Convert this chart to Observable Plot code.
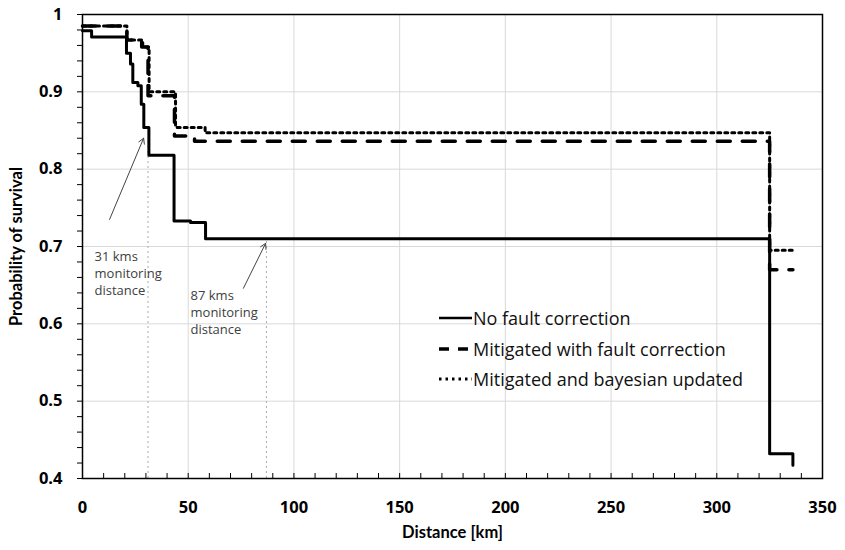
<!DOCTYPE html>
<html><head><meta charset="utf-8">
<script src="https://cdn.jsdelivr.net/npm/d3@7"></script>
<script src="https://cdn.jsdelivr.net/npm/@observablehq/plot@0.6"></script>
<style>
body{margin:0;background:#fff;}
#wrap{position:relative;width:845px;height:550px;font-family:Lato,"Open Sans",sans-serif;}
#legend{position:absolute;left:438px;top:303px;font-size:18px;color:#111;font-family:"Open Sans",Lato,sans-serif;}
.row{display:flex;align-items:center;height:30.5px;white-space:nowrap;}
.row svg{margin-right:1px;}
g[aria-label="x-axis tick label"] text, g[aria-label="y-axis tick label"] text {font-weight:700;font-family:"Open Sans",sans-serif;}
g[aria-label="x-axis label"] text, g[aria-label="y-axis label"] text {font-weight:700;}
</style></head><body><div id="wrap"><div id="legend"></div></div>
<script>
// Series: step-after points (distance km, probability of survival)
const noCorrKm = [0, 4.3, 20.8, 22.7, 23.8, 26.2, 27.8, 29.0, 31.4, 43.3, 51.1, 58.2, 325, 336];
const noCorrP  = [0.979, 0.971, 0.950, 0.936, 0.912, 0.908, 0.884, 0.854, 0.818, 0.733, 0.731, 0.710, 0.432, 0.417];
const fixKm = [0, 21, 28, 31, 43.5, 53, 325, 336];
const fixP  = [0.985, 0.967, 0.958, 0.895, 0.843, 0.836, 0.670, 0.670];
const bayesKm = [0, 21, 28.5, 31.5, 44, 58, 325, 336];
const bayesP  = [0.985, 0.967, 0.958, 0.900, 0.854, 0.847, 0.695, 0.695];
const seriesNames = ["No fault correction", "Mitigated with fault correction", "Mitigated and bayesian updated"];

// Axis ticks
const xMajor = [0, 50, 100, 150, 200, 250, 300, 350];
const xTickLabels = ["0", "50", "100", "150", "200", "250", "300", "350"];
const xMinor = d3.range(0, 351, 10);
const yMajor = [0.4, 0.5, 0.6, 0.7, 0.8, 0.9, 1.0];
const yTickLabels = ["0.4", "0.5", "0.6", "0.7", "0.8", "0.9", "1"];
const yMinor = d3.range(0, 31).map(i => 0.4 + i * 0.02);

// Annotations
const monitorKm = [31, 87];
const monitorTopP = [0.84, 0.71];
const arrowFromKm = [12.8, 76.1];
const arrowFromP = [0.735, 0.646];
const arrowToKm = [28.9, 86.6];
const arrowToP = [0.840, 0.704];
const annoKm = [5.7, 51.1];
const annoP = [0.697, 0.646];
const annoText = ["31 kms\nmonitoring\ndistance", "87 kms\nmonitoring\ndistance"];

const toRows = (xs, ys) => xs.map((x, i) => ({x, y: ys[i]}));
const idx = [0, 1];

const chart = Plot.plot({
  width: 845, height: 550,
  marginLeft: 82, marginRight: 23, marginTop: 14, marginBottom: 72,
  style: {fontFamily: "Lato, 'Open Sans', sans-serif", background: "white", color: "black"},
  x: {domain: [0, 350]},
  y: {domain: [0.4, 1]},
  marks: [
    Plot.gridX(xMajor.slice(1, -1), {stroke: "#d9d9d9", strokeOpacity: 1}),
    Plot.gridY(yMajor.slice(1, -1), {stroke: "#d9d9d9", strokeOpacity: 1}),
    Plot.ruleX(idx, {x: i => monitorKm[i], y1: 0.4, y2: i => monitorTopP[i], stroke: "#aaaaaa", strokeDasharray: "2,3", strokeWidth: 1}),
    Plot.arrow(idx, {x1: i => arrowFromKm[i], y1: i => arrowFromP[i], x2: i => arrowToKm[i], y2: i => arrowToP[i], stroke: "#444", strokeWidth: 1, headLength: 9}),
    Plot.text(idx, {x: i => annoKm[i], y: i => annoP[i], text: i => annoText[i], textAnchor: "start", lineAnchor: "top", lineHeight: 1.3, fontSize: 13, fill: "#404040", fontFamily: "'Open Sans', sans-serif"}),
    Plot.line(toRows(noCorrKm, noCorrP), {x: "x", y: "y", curve: "step-after", stroke: "black", strokeWidth: 3}),
    Plot.line(toRows(fixKm, fixP), {x: "x", y: "y", curve: "step-after", stroke: "black", strokeWidth: 3.5, strokeDasharray: "13,12"}),
    Plot.line(toRows(bayesKm, bayesP), {x: "x", y: "y", curve: "step-after", stroke: "black", strokeWidth: 3, strokeDasharray: "3,4"}),
    Plot.axisX({ticks: xMinor, tickSize: 5, dy: -5, text: null, label: null, strokeWidth: 1}),
    Plot.axisX({ticks: xMajor, tickSize: 0, tickPadding: 23, tickFormat: d => xTickLabels[xMajor.indexOf(d)], fontSize: 16.5, fontWeight: "bold", label: "Distance [km]", labelAnchor: "center", labelArrow: "none", labelOffset: 59}),
    Plot.axisY({ticks: yMinor, tickSize: 5, text: null, label: null, strokeWidth: 1}),
    Plot.axisY({ticks: yMajor, tickSize: 0, tickPadding: 20, tickFormat: d => yTickLabels[yMajor.indexOf(d)], fontSize: 16.5, fontWeight: "bold", label: "Probability of survival", labelAnchor: "center", labelArrow: "none", labelOffset: 72}),
    Plot.frame({stroke: "black", strokeWidth: 1.5})
  ]
});
const wrap = document.getElementById("wrap");
wrap.insertBefore(chart, wrap.firstChild);

// Legend
const legendStyles = [
  {dash: null, w: 2.5},
  {dash: "10,9", w: 3.5},
  {dash: "2.5,4", w: 3}
];
const legend = document.getElementById("legend");
seriesNames.forEach((name, i) => {
  const s = legendStyles[i];
  const row = document.createElement("div");
  row.className = "row";
  row.innerHTML = `<svg width="34" height="10"><line x1="1" y1="5" x2="34" y2="5" stroke="black" stroke-width="${s.w}" ${s.dash ? `stroke-dasharray="${s.dash}"` : ""}/></svg><span>${name}</span>`;
  legend.appendChild(row);
});
</script>
</body></html>
